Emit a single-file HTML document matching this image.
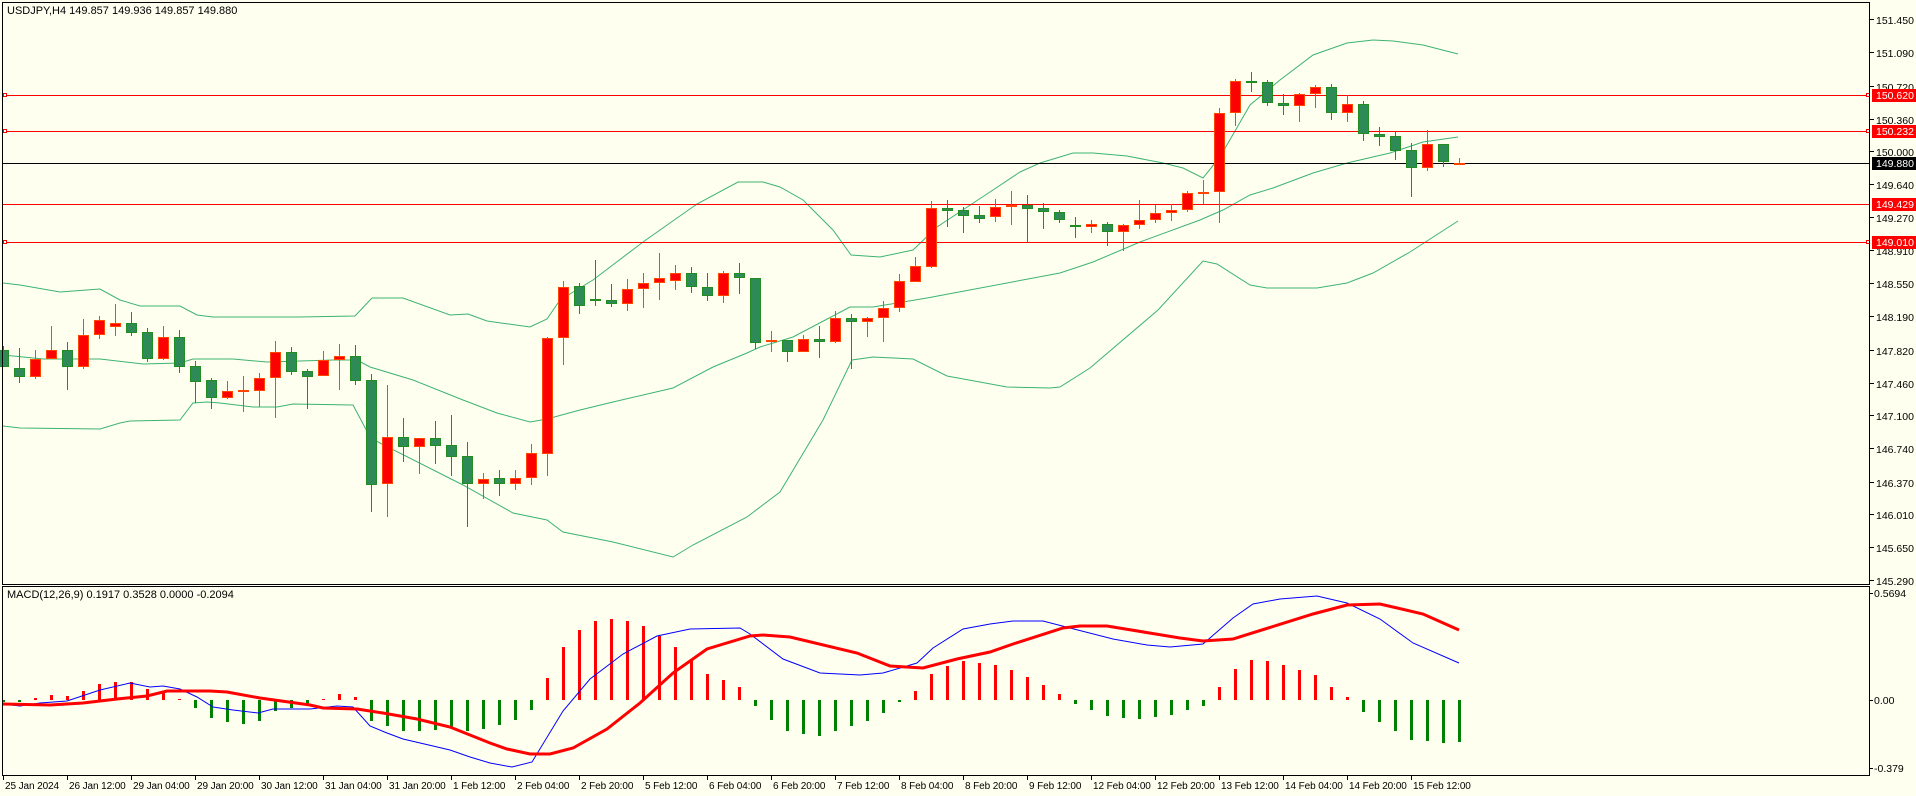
<!DOCTYPE html>
<html><head><meta charset="utf-8"><style>
html,body{margin:0;padding:0;background:#fffff0;}
svg{display:block;}
text{font-family:"Liberation Sans",sans-serif;font-size:11px;fill:#000;}
.t text{font-size:10px;letter-spacing:-0.1px;}
.p{font-size:10.5px;}
</style></head><body>
<svg id="s" width="1916" height="796" xmlns="http://www.w3.org/2000/svg">
<rect width="1916" height="796" fill="#fffff0"/>
<g id="bb" fill="none" stroke="#3cb371" stroke-width="1"></g>
<g id="hl">
<line x1="2" y1="95.5" x2="1870" y2="95.5" stroke="#f00"/>
<line x1="2" y1="131.5" x2="1870" y2="131.5" stroke="#f00"/>
<line x1="2" y1="204.5" x2="1870" y2="204.5" stroke="#f00"/>
<line x1="2" y1="242.5" x2="1870" y2="242.5" stroke="#f00"/>
<line x1="2" y1="163.5" x2="1870" y2="163.5" stroke="#000"/>
<rect x="3.5" y="93.5" width="3" height="3" fill="#fff" stroke="#f00"/>
<rect x="3.5" y="129.5" width="3" height="3" fill="#fff" stroke="#f00"/>
<rect x="3.5" y="240.5" width="3" height="3" fill="#fff" stroke="#f00"/>
<rect x="1866.5" y="93.5" width="3" height="3" fill="#fff" stroke="#f00"/>
<rect x="1866.5" y="129.5" width="3" height="3" fill="#fff" stroke="#f00"/>
<rect x="1866.5" y="240.5" width="3" height="3" fill="#fff" stroke="#f00"/>
</g>
<g id="cd"></g>
<g id="mh"></g>
<g id="ml" fill="none"></g>
<rect x="2.5" y="2.5" width="1867" height="582" fill="none" stroke="#000"/>
<rect x="2.5" y="586.5" width="1867" height="189" fill="none" stroke="#000"/>
<g id="tk" stroke="#000"></g>
<text x="7" y="14">USDJPY,H4  149.857 149.936 149.857 149.880</text>
<text x="7" y="598">MACD(12,26,9) 0.1917 0.3528 0.0000 -0.2094</text>
<g class="p">
<text class="p" x="1876" y="24">151.450</text>
<text class="p" x="1876" y="57">151.090</text>
<text class="p" x="1876" y="91">150.720</text>
<text class="p" x="1876" y="124">150.360</text>
<text class="p" x="1876" y="156">150.000</text>
<text class="p" x="1876" y="189">149.640</text>
<text class="p" x="1876" y="222">149.270</text>
<text class="p" x="1876" y="255">148.910</text>
<text class="p" x="1876" y="288">148.550</text>
<text class="p" x="1876" y="321">148.190</text>
<text class="p" x="1876" y="355">147.820</text>
<text class="p" x="1876" y="388">147.460</text>
<text class="p" x="1876" y="420">147.100</text>
<text class="p" x="1876" y="453">146.740</text>
<text class="p" x="1876" y="487">146.370</text>
<text class="p" x="1876" y="519">146.010</text>
<text class="p" x="1876" y="552">145.650</text>
<text class="p" x="1876" y="585">145.290</text>
</g>
<rect x="1872" y="89" width="44" height="13" fill="#f00"/>
<text class="p" x="1876" y="99" style="fill:#fff">150.620</text>
<rect x="1872" y="125" width="44" height="13" fill="#f00"/>
<text class="p" x="1876" y="135" style="fill:#fff">150.232</text>
<rect x="1872" y="157" width="44" height="13" fill="#000"/>
<text class="p" x="1876" y="167" style="fill:#fff">149.880</text>
<rect x="1872" y="198" width="44" height="13" fill="#f00"/>
<text class="p" x="1876" y="208" style="fill:#fff">149.429</text>
<rect x="1872" y="236" width="44" height="13" fill="#f00"/>
<text class="p" x="1876" y="246" style="fill:#fff">149.010</text>
<text class="p" x="1874" y="597">0.5694</text>
<text class="p" x="1874" y="704">0.00</text>
<text class="p" x="1874" y="772">-0.379</text>
<g class="t">
<text x="5" y="789">25 Jan 2024</text>
<text x="69" y="789">26 Jan 12:00</text>
<text x="133" y="789">29 Jan 04:00</text>
<text x="197" y="789">29 Jan 20:00</text>
<text x="261" y="789">30 Jan 12:00</text>
<text x="325" y="789">31 Jan 04:00</text>
<text x="389" y="789">31 Jan 20:00</text>
<text x="453" y="789">1 Feb 12:00</text>
<text x="517" y="789">2 Feb 04:00</text>
<text x="581" y="789">2 Feb 20:00</text>
<text x="645" y="789">5 Feb 12:00</text>
<text x="709" y="789">6 Feb 04:00</text>
<text x="773" y="789">6 Feb 20:00</text>
<text x="837" y="789">7 Feb 12:00</text>
<text x="901" y="789">8 Feb 04:00</text>
<text x="965" y="789">8 Feb 20:00</text>
<text x="1029" y="789">9 Feb 12:00</text>
<text x="1093" y="789">12 Feb 04:00</text>
<text x="1157" y="789">12 Feb 20:00</text>
<text x="1221" y="789">13 Feb 12:00</text>
<text x="1285" y="789">14 Feb 04:00</text>
<text x="1349" y="789">14 Feb 20:00</text>
<text x="1413" y="789">15 Feb 12:00</text>
</g>
</svg>
<script>
var NS="http://www.w3.org/2000/svg";
function el(p,t,a){var e=document.createElementNS(NS,t);for(var k in a)e.setAttribute(k,a[k]);document.getElementById(p).appendChild(e);return e;}
var C=[[350,367,346,367,'g'],[368,377,348,383,'g'],[359,377,350,379,'r'],[350,359,326,359,'r'],[350,367,342,390,'g'],[335,367,319,369,'r'],[320,335,316,339,'r'],[323,327,304,336,'r'],[323,333,312,336,'g'],[332,359,328,362,'g'],
[337,359,326,360,'r'],[337,367,330,373,'g'],[366,382,361,403,'g'],[380,398,378,409,'g'],[391,398,381,399,'r'],[390,392,376,412,'r'],[378,391,373,407,'r'],[352,378,341,418,'r'],[352,372,347,375,'g'],[371,377,369,409,'g'],
[360,376,351,376,'r'],[356,360,344,390,'r'],[356,381,345,385,'g'],[380,485,374,512,'g'],[437,484,385,517,'r'],[437,447,418,462,'g'],[438,447,438,474,'r'],[438,446,421,464,'g'],[445,457,415,476,'g'],[456,484,442,527,'g'],
[479,484,473,499,'r'],[478,484,470,496,'g'],[478,484,470,490,'r'],[453,478,444,485,'r'],[338,454,337,476,'r'],[287,338,281,365,'r'],[286,306,283,314,'g'],[299,301,260,306,'g'],[300,304,284,307,'g'],[289,304,279,311,'r'],
[283,289,273,308,'r'],[278,283,253,300,'r'],[273,281,265,290,'r'],[273,287,267,293,'g'],[287,296,273,301,'g'],[273,296,271,303,'r'],[273,278,263,294,'g'],[278,343,278,349,'g'],[340,342,331,352,'r'],[340,352,340,362,'g'],
[339,352,335,352,'r'],[339,342,326,358,'g'],[318,342,311,343,'r'],[318,322,314,369,'g'],[318,322,317,337,'r'],[308,318,301,342,'r'],[281,308,274,312,'r'],[266,282,257,282,'r'],[208,267,201,268,'r'],[208,211,200,227,'g'],
[210,216,207,233,'g'],[215,219,206,223,'g'],[207,217,199,222,'r'],[205,207,191,225,'r'],[205,209,195,243,'g'],[208,212,203,229,'g'],[212,220,210,223,'g'],[225,227,217,238,'g'],[224,227,220,233,'r'],[224,232,222,246,'g'],
[225,232,224,251,'r'],[220,225,200,229,'r'],[213,220,205,223,'r'],[210,213,204,221,'r'],[193,210,191,212,'r'],[192,193,180,204,'r'],[113,192,108,223,'r'],[81,113,79,126,'r'],[81,83,72,92,'g'],[82,103,80,106,'g'],
[103,106,94,115,'g'],[94,106,93,122,'r'],[87,94,85,108,'r'],[87,113,84,120,'g'],[104,113,95,122,'r'],[104,134,101,141,'g'],[134,137,127,146,'g'],[136,151,132,160,'g'],[150,168,143,197,'g'],[144,168,130,171,'r'],
[144,162,144,167,'g'],[163,165,158,165,'r']];
C.forEach(function(c,i){var x=3+16*i;var r=c[4]=='r';var sc=r?'#ff4500':'#228b22',fc=r?'#ff0000':'#2e8b57';
el('cd','line',{x1:x+0.5,y1:c[2],x2:x+0.5,y2:c[3],stroke:sc});
var h=Math.max(c[1]-c[0],2);
el('cd','rect',{x:x-4.5,y:c[0]+0.5,width:10,height:h-1,fill:fc,stroke:sc});});
function pl(p,pts,col,w){el(p,'polyline',{points:pts.map(function(a){return a.join(',')}).join(' '),stroke:col,'stroke-width':w,fill:'none'});}
pl('bb',[[3,283],[20,285],[60,292],[100,289],[120,300],[140,306],[180,306],[197,315],[213,317],[300,317],[355,316],[372,298],[403,298],[450,315],[468,314],[487,321],[530,327],[547,319],[560,300],[593,280],[643,242],[660,230],[697,204],[738,182],[763,182],[780,187],[803,200],[833,230],[851,255],[880,257],[913,250],[937,227],[993,190],[1020,172],[1040,163],[1073,153],[1093,153],[1127,156],[1163,163],[1183,168],[1203,178],[1220,157],[1250,105],[1280,80],[1313,55],[1347,43],[1373,40],[1393,41],[1423,45],[1458,54]],'#3cb371',1);
pl('bb',[[3,355],[43,359],[100,359],[143,364],[180,363],[193,359],[233,359],[267,362],[333,360],[357,360],[370,367],[380,370],[413,380],[463,400],[497,413],[530,422],[547,419],[580,410],[613,402],[673,388],[713,367],[747,353],[760,347],[793,337],[850,307],[873,307],[927,298],[1060,273],[1093,262],[1140,242],[1200,220],[1223,210],[1250,195],[1273,188],[1313,173],[1347,163],[1390,153],[1423,142],[1458,137]],'#3cb371',1);
pl('bb',[[3,426],[20,428],[100,429],[120,423],[130,421],[180,420],[193,403],[207,402],[220,403],[253,407],[277,407],[293,404],[353,405],[370,437],[380,443],[463,485],[513,513],[547,520],[563,532],[613,542],[673,557],[693,545],[747,517],[780,492],[823,420],[852,360],[873,357],[913,359],[947,376],[1007,387],[1050,388],[1060,387],[1090,368],[1158,310],[1203,261],[1217,264],[1250,285],[1267,288],[1317,288],[1347,283],[1373,273],[1410,252],[1458,221]],'#3cb371',1);
var H=[702,702,698,695,696,691,684,682,682,689,692,699,708,718,722,724,721,711,708,705,699,694,697,721,726,731,731,730,728,731,729,725,720,710,678,647,630,621,619,621,626,636,647,659,674,680,687,706,720,731,734,736,731,726,721,713,702,691,674,666,661,663,665,670,677,685,694,704,710,716,718,719,717,715,710,706,687,669,660,661,665,670,675,687,697,712,722,731,740,741,743,742];
H.forEach(function(v,i){var x=3+16*i;var up=v<700;
el('mh','rect',{x:x-1,y:Math.min(v,700),width:3,height:Math.max(Math.abs(v-700),1),fill:up?'#ff0000':'#008000'});});
pl('ml',[[3,704],[20,706],[40,703],[67,701],[100,690],[130,683],[150,687],[163,686],[180,689],[197,697],[213,707],[233,710],[258,713],[273,709],[310,709],[337,706],[353,707],[370,726],[387,733],[403,739],[433,746],[450,750],[470,757],[490,763],[512,767],[532,762],[563,711],[590,679],[623,654],[657,636],[690,629],[740,628],[750,634],[783,659],[820,673],[860,675],[883,673],[917,663],[933,648],[963,629],[990,624],[1013,621],[1043,621],[1070,628],[1113,639],[1147,645],[1170,647],[1203,644],[1233,618],[1253,604],[1280,599],[1317,596],[1347,603],[1380,619],[1413,643],[1459,663]],'#0000ff',1);
pl('ml',[[3,704],[50,705],[83,703],[117,699],[147,696],[167,691],[210,691],[227,692],[260,698],[310,705],[323,708],[357,709],[383,713],[417,719],[450,727],[490,743],[507,749],[530,754],[550,754],[573,748],[607,729],[640,703],[673,673],[707,649],[750,636],[763,635],[790,637],[857,653],[890,666],[923,668],[957,659],[990,652],[1013,644],[1063,628],[1080,626],[1107,626],[1180,638],[1203,641],[1233,639],[1313,614],[1347,605],[1380,604],[1423,614],[1459,630]],'#ff0000',3);
[24,57,91,124,156,189,222,255,288,321,355,388,420,453,487,519,552,585].forEach(function(y){el('tk','line',{x1:1870,y1:y-4.5,x2:1874,y2:y-4.5});});
[593,700,768].forEach(function(y){el('tk','line',{x1:1870,y1:y+0.5,x2:1873,y2:y+0.5});});
for(var i=0;i<23;i++){var x=3.5+64*i;el('tk','line',{x1:x,y1:776,x2:x,y2:780});}
</script>
</body></html>
